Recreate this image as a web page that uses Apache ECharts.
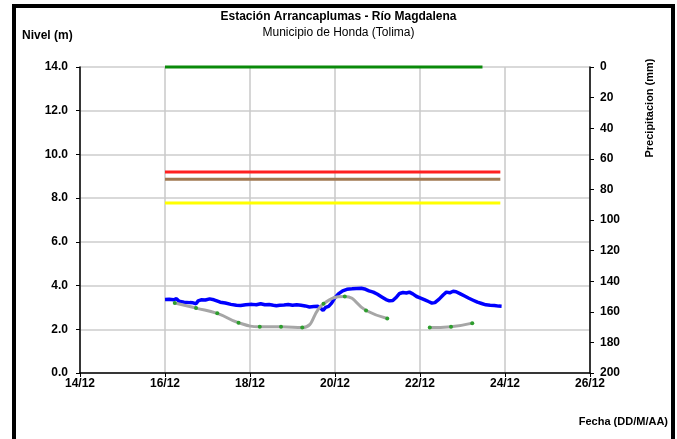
<!DOCTYPE html>
<html>
<head>
<meta charset="utf-8">
<script src="https://cdn.jsdelivr.net/npm/echarts@6/dist/echarts.min.js"></script>
<style>
  html, body { margin: 0; padding: 0; background: #fff; }
  #chart { width: 677px; height: 439px; }
</style>
</head>
<body>
<div id="chart"></div>
<script>
// dias (14 = 14/12) y nivel del rio (m)
const nivelDias = [16.00, 16.10, 16.20, 16.27, 16.33, 16.45, 16.58, 16.66, 16.73, 16.78, 16.85, 16.95,
  17.05, 17.15, 17.22, 17.30, 17.42, 17.55, 17.68, 17.78, 17.90, 18.05, 18.15, 18.25, 18.35, 18.45,
  18.55, 18.62, 18.70, 18.80, 18.90, 19.00, 19.10, 19.20, 19.30, 19.40, 19.50, 19.60, 19.67, 19.72,
  19.78, 19.85, 19.92, 20.00, 20.08, 20.18, 20.28, 20.40, 20.50, 20.62, 20.72, 20.80, 20.90, 21.00,
  21.10, 21.20, 21.28, 21.36, 21.45, 21.52, 21.60, 21.68, 21.75, 21.83, 21.92, 22.00, 22.10, 22.20,
  22.28, 22.35, 22.45, 22.55, 22.62, 22.70, 22.78, 22.85, 22.95, 23.05, 23.15, 23.25, 23.35, 23.45,
  23.55, 23.65, 23.75, 23.85, 23.92];
const nivel = [3.36, 3.37, 3.35, 3.40, 3.28, 3.24, 3.22, 3.21, 3.17, 3.30, 3.35, 3.34,
  3.39, 3.35, 3.30, 3.24, 3.20, 3.14, 3.10, 3.09, 3.12, 3.14, 3.12, 3.17, 3.12, 3.13,
  3.10, 3.08, 3.10, 3.11, 3.13, 3.10, 3.12, 3.10, 3.07, 3.02, 3.04, 3.05, 2.95, 2.86,
  3.00, 3.05, 3.20, 3.45, 3.62, 3.76, 3.83, 3.85, 3.87, 3.88, 3.83, 3.76, 3.70, 3.60,
  3.48, 3.36, 3.30, 3.32, 3.48, 3.64, 3.68, 3.66, 3.70, 3.62, 3.50, 3.44, 3.36, 3.27,
  3.20, 3.22, 3.38, 3.58, 3.70, 3.67, 3.74, 3.72, 3.62, 3.52, 3.42, 3.33, 3.24, 3.18,
  3.12, 3.10, 3.09, 3.06, 3.05];

// lecturas de mira (gris con puntos verdes)
const miraDias = [16.23, 16.73, 17.23, 17.73, 18.23, 18.73, 19.23, 19.73, 20.23, 20.73, 21.23, 21.73, 22.23, 22.73, 23.23];
const mira = [3.20, 2.97, 2.73, 2.30, 2.12, 2.12, 2.08, 3.17, 3.50, 2.86, 2.49, null, 2.08, 2.12, 2.28];

// precipitacion (mm)
const precDias = [16.0, 16.5, 17.0, 17.5, 18.0, 18.5, 19.0, 19.5, 20.0, 20.5, 21.0, 21.5, 22.0, 22.5, 23.0, 23.47];
const prec = [0, 0, 0, 0, 0, 0, 0, 0, 0, 0, 0, 0, 0, 0, 0, 0];

// niveles de alerta
const alertaDias = [16.0, 23.89];
const alertaRoja = [9.2, 9.2];
const alertaNaranja = [8.86, 8.86];
const alertaAmarilla = [7.78, 7.78];

const pairs = (xs, ys) => xs.map((x, i) => [x, ys[i]]);

const font = 'Liberation Sans, Arial, sans-serif';
const bold = { fontFamily: font, fontWeight: 'bold', fontSize: 12, color: '#000' };

let myChart = echarts.init(document.getElementById('chart'));

let option = {
  animation: false,
  grid: { left: 80, right: 87, top: 67, bottom: 66 },
  graphic: [
    {
      type: 'rect',
      shape: { x: 14, y: 6, width: 659, height: 450 },
      style: { fill: 'none', stroke: '#000', lineWidth: 4 }
    },
    {
      type: 'text', left: 'center', top: 11,
      style: { text: 'Estación Arrancaplumas - Río Magdalena', font: 'bold 12px ' + font, fill: '#000' }
    },
    {
      type: 'text', left: 'center', top: 27,
      style: { text: 'Municipio de Honda (Tolima)', font: '12px ' + font, fill: '#000' }
    },
    {
      type: 'text', left: 22, top: 30,
      style: { text: 'Nivel (m)', font: 'bold 12px ' + font, fill: '#000' }
    },
    {
      type: 'text', x: 650, y: 108, rotation: Math.PI / 2,
      style: { text: 'Precipitacion (mm)', font: 'bold 11px ' + font, fill: '#000', align: 'center', verticalAlign: 'middle' }
    },
    {
      type: 'text', right: 9, top: 416,
      style: { text: 'Fecha (DD/M/AA)', font: 'bold 11px ' + font, fill: '#000' }
    }
  ],
  xAxis: {
    type: 'value',
    min: 14, max: 26, interval: 2,
    axisLine: { lineStyle: { color: '#000', width: 1.5 } },
    axisTick: { show: true, length: 4, lineStyle: { color: '#000' } },
    axisLabel: { ...bold, margin: 5, formatter: v => v + '/12' },
    splitLine: { show: true, lineStyle: { color: '#c8c8c8', width: 1.5 } }
  },
  yAxis: [
    {
      type: 'value',
      min: 0, max: 14, interval: 2,
      axisLine: { show: true, lineStyle: { color: '#000', width: 1.5 } },
      axisTick: { show: true, length: 4, lineStyle: { color: '#000' } },
      axisLabel: { ...bold, margin: 12, formatter: v => v.toFixed(1) },
      splitLine: { show: true, lineStyle: { color: '#d9d9d9', width: 2 } }
    },
    {
      type: 'value',
      min: 0, max: 200, interval: 20,
      inverse: true,
      position: 'right',
      axisLine: { show: true, lineStyle: { color: '#000', width: 1.5 } },
      axisTick: { show: true, length: 4, lineStyle: { color: '#000' } },
      axisLabel: { ...bold, margin: 10 },
      splitLine: { show: false }
    }
  ],
  series: [
    {
      type: 'line', data: pairs(alertaDias, alertaRoja), symbol: 'none',
      lineStyle: { color: '#ff2020', width: 3 }
    },
    {
      type: 'line', data: pairs(alertaDias, alertaNaranja), symbol: 'none',
      lineStyle: { color: '#a07850', width: 3 }
    },
    {
      type: 'line', data: pairs(alertaDias, alertaAmarilla), symbol: 'none',
      lineStyle: { color: '#ffff00', width: 3 }
    },
    {
      type: 'line', yAxisIndex: 1, data: pairs(precDias, prec), symbol: 'none', clip: false,
      lineStyle: { color: '#0a8a0a', width: 3 }
    },
    {
      type: 'line', data: pairs(nivelDias, nivel), symbol: 'none',
      lineStyle: { color: '#0000ff', width: 3.5 }
    },
    {
      type: 'line', data: pairs(miraDias, mira), smooth: 0.5, connectNulls: false,
      symbol: 'circle', symbolSize: 4, showSymbol: true,
      itemStyle: { color: '#2e9e2e', borderWidth: 0 },
      lineStyle: { color: '#a6a6a6', width: 3 }
    }
  ]
};

option && myChart.setOption(option);
</script>
</body>
</html>
